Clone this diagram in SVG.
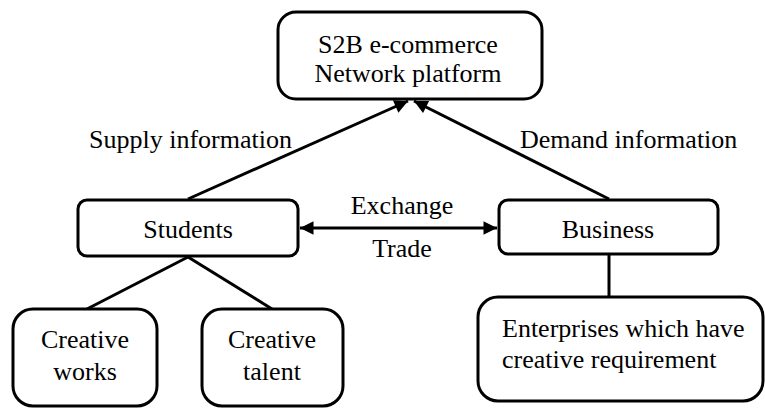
<svg xmlns="http://www.w3.org/2000/svg" width="765" height="409" viewBox="0 0 765 409">
<style>
.box{fill:#fff;stroke:#000;stroke-width:3}
.ln{fill:none;stroke:#000;stroke-width:3}
text{font-family:"Liberation Serif","Times New Roman",serif;font-size:26px;fill:#000}
.c{text-anchor:middle}
</style>
<defs>
<marker id="ah" viewBox="0 0 10 10" refX="10" refY="5" markerWidth="6" markerHeight="4.5" markerUnits="strokeWidth" orient="auto">
<path d="M0,0 L10,5 L0,10 z" fill="#000"/>
</marker>
<marker id="ahs" viewBox="0 0 10 10" refX="0" refY="5" markerWidth="6" markerHeight="4.5" markerUnits="strokeWidth" orient="auto">
<path d="M10,0 L0,5 L10,10 z" fill="#000"/>
</marker>
</defs>
<g id="connectors">
<line class="ln" x1="188" y1="199" x2="408" y2="101" marker-end="url(#ah)"/>
<line class="ln" x1="609" y1="199" x2="414" y2="101" marker-end="url(#ah)"/>
<line class="ln" x1="300" y1="228" x2="497" y2="228" marker-start="url(#ahs)" marker-end="url(#ah)"/>
<line class="ln" x1="188" y1="257" x2="87" y2="309"/>
<line class="ln" x1="188" y1="257" x2="272" y2="309"/>
<line class="ln" x1="609" y1="254" x2="609" y2="297"/>
<text x="89" y="148">Supply information</text>
<text x="520" y="148">Demand information</text>
<text class="c" x="402" y="214">Exchange</text>
<text class="c" x="402" y="257">Trade</text>
</g>
<g id="platform">
<rect class="box" x="278" y="12" width="264" height="87" rx="18"/>
<text class="c" x="408" y="53">S2B e-commerce</text>
<text class="c" x="408" y="82">Network platform</text>
</g>
<g id="students">
<rect class="box" x="78" y="200" width="220" height="56" rx="9"/>
<text class="c" x="188" y="238">Students</text>
</g>
<g id="business">
<rect class="box" x="499" y="200" width="219" height="54" rx="9"/>
<text class="c" x="608" y="238">Business</text>
</g>
<g id="creative-works">
<rect class="box" x="13" y="309" width="144" height="97" rx="20"/>
<text class="c" x="85" y="348">Creative</text>
<text class="c" x="85" y="380">works</text>
</g>
<g id="creative-talent">
<rect class="box" x="202" y="309" width="141" height="97" rx="20"/>
<text class="c" x="272" y="348">Creative</text>
<text class="c" x="272" y="380">talent</text>
</g>
<g id="enterprises">
<rect class="box" x="478" y="297" width="285" height="104" rx="20"/>
<text x="502" y="337">Enterprises which have</text>
<text x="502" y="368">creative requirement</text>
</g>
</svg>
